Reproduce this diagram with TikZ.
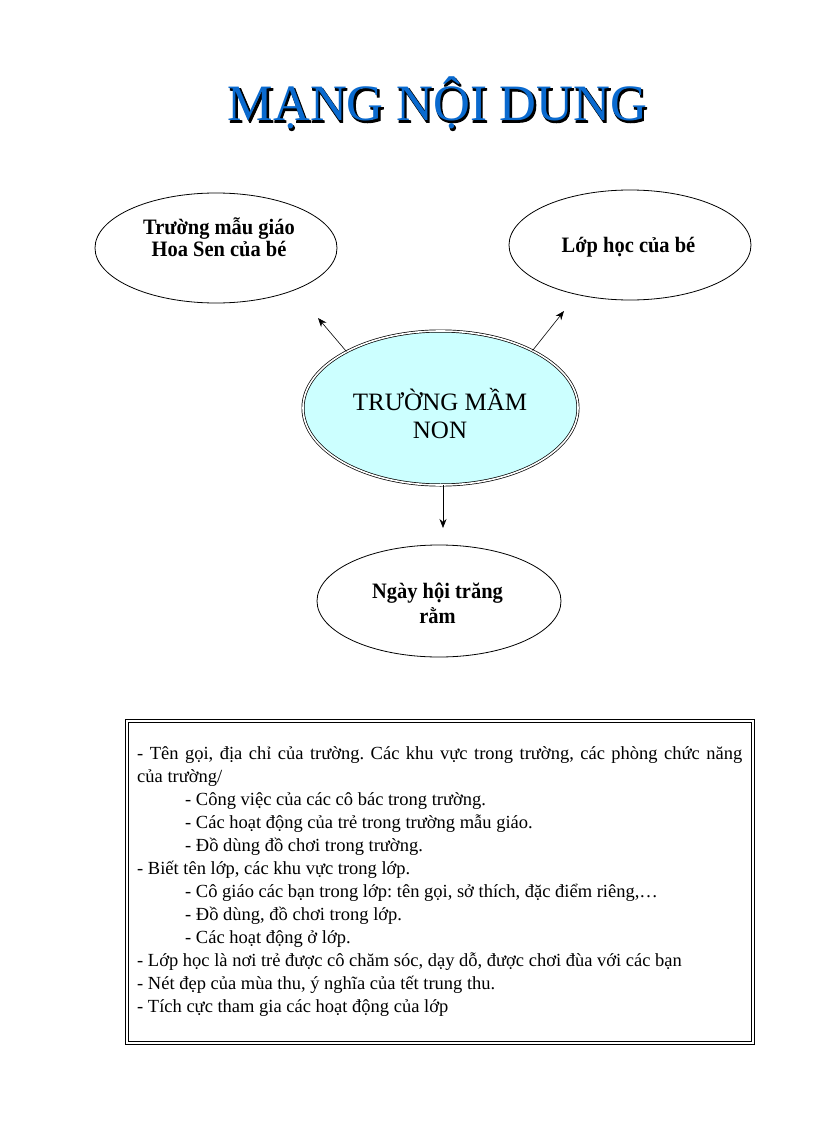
\documentclass[tikz,border=0pt]{standalone}
\usepackage{fontspec}
\setmainfont{Liberation Serif}
\newfontfamily\bubblefont{Liberation Serif}[FakeStretch=0.93]
\newfontfamily\titleoutline{Liberation Serif}[FakeBold=2.2]
\usetikzlibrary{shapes.geometric,arrows.meta}
\definecolor{lightcyan}{HTML}{CCFFFF}
\definecolor{titleblue}{HTML}{0A6ACF}
\tikzset{
  bubble/.style={draw, ellipse, line width=0.8pt, minimum width=242pt, minimum height=110pt, inner sep=0pt},
  bubbletext/.style={font=\bubblefont\bfseries\fontsize{22}{22}\selectfont, align=center, inner sep=0pt},
  arr/.style={-{Stealth[length=9pt,width=7pt]}, line width=0.6pt},
  titlefont/.style={font=\fontsize{51}{56}\selectfont, inner sep=0pt, anchor=base}
}
\begin{document}
\begin{tikzpicture}[x=1pt,y=-1pt]
\useasboundingbox (0,0) rectangle (816,1123);
% title: black emboldened copy gives outline and shadow, blue on top
\node[titlefont, font=\titleoutline\fontsize{51}{56}\selectfont, text=black] (titleshadow) at (438.7,122.2) {MẠNG NỘI DUNG};
\node[titlefont, text=titleblue] (title) at (437.5,121) {MẠNG NỘI DUNG};

% bubbles
\node[bubble] (school) at (216,248) {};
\node[bubbletext] (schoolt) at (219,237.5) {Trường mẫu giáo\\Hoa Sen của bé};
\node[bubble] (class) at (630,245) {};
\node[bubbletext] (classt) at (628.5,247) {Lớp học của bé};
\node[bubble, minimum width=244pt, minimum height=112pt] (fest) at (439,601) {};
\node[bubbletext, font=\bubblefont\bfseries\fontsize{22}{25}\selectfont] (festt) at (437.5,603) {Ngày hội trăng\\rằm};
\node[draw, ellipse, fill=lightcyan, line width=0.7pt, double=white, double distance=1.6pt,
      minimum width=275pt, minimum height=154pt, inner sep=0pt] (center) at (440.5,408) {};
\node[font=\fontsize{25}{28}\selectfont, align=center, inner sep=0pt] (centert) at (440,414) {TRƯỜNG MẦM\\NON};

% arrows
\coordinate (a1) at (318,318);
\coordinate (a2) at (564,311);
\coordinate (a3) at (443,528);
\draw[arr] (center.149.6) -- (a1);
\draw[arr] (center.32.1) -- (a2);
\draw[arr] (a3 |- center.south) -- (a3);

% content box
\node[draw, rectangle, line width=0.8pt, double=white, double distance=2.4pt,
      minimum width=626pt, minimum height=322pt, inner sep=0pt] (box) at (440,882) {};
\node[anchor=north west, inner sep=0pt, text width=605pt, align=justify,
      font=\fontsize{18.5}{23}\selectfont] (boxt) at (137,746) {\frenchspacing
- Tên gọi, địa chỉ của trường. Các khu vực trong trường, các phòng chức năng\linebreak
của trường/\\
\hspace*{48pt}- Công việc của các cô bác trong trường.\\
\hspace*{48pt}- Các hoạt động của trẻ trong trường mẫu giáo.\\
\hspace*{48pt}- Đồ dùng đồ chơi trong trường.\\
- Biết tên lớp, các khu vực trong lớp.\\
\hspace*{48pt}- Cô giáo các bạn trong lớp: tên gọi, sở thích, đặc điểm riêng,…\\
\hspace*{48pt}- Đồ dùng, đồ chơi trong lớp.\\
\hspace*{48pt}- Các hoạt động ở lớp.\\
- Lớp học là nơi trẻ được cô chăm sóc, dạy dỗ, được chơi đùa với các bạn\\
- Nét đẹp của mùa thu, ý nghĩa của tết trung thu.\\
- Tích cực tham gia các hoạt động của lớp};
\end{tikzpicture}
\end{document}
